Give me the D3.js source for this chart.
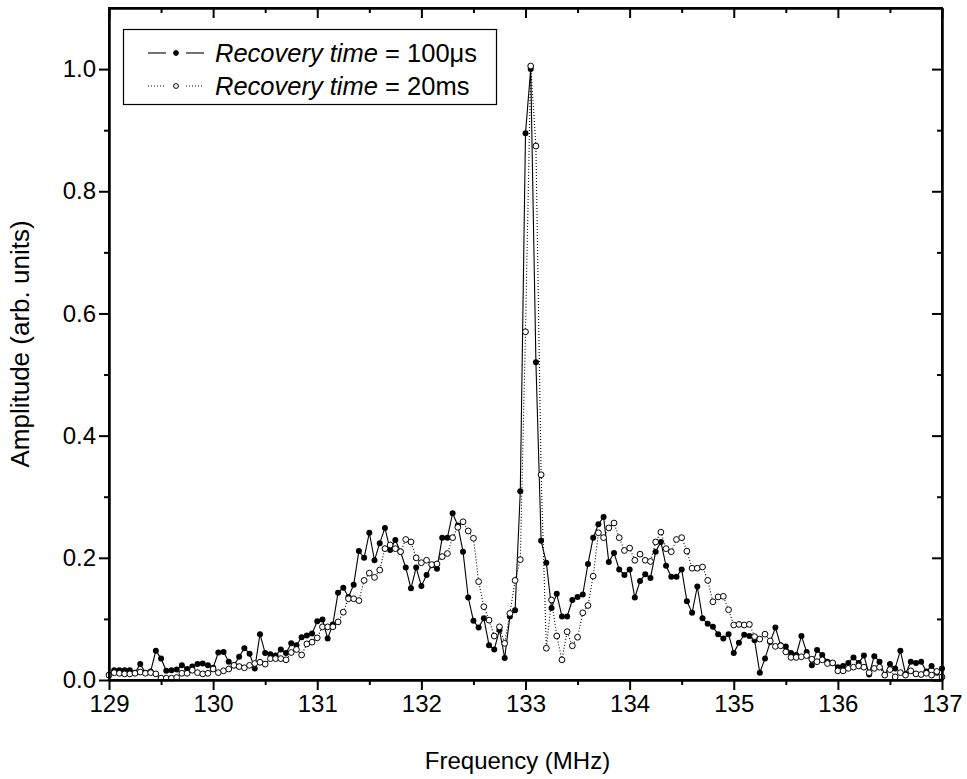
<!DOCTYPE html>
<html>
<head>
<meta charset="utf-8">
<script src="https://cdn.jsdelivr.net/npm/d3@7"></script>
<style>
  body { margin: 0; background: #fff; }
  svg { display: block; font-family: "Liberation Sans", Arial, sans-serif; }
  .frame line, .frame path { stroke: #000; }
</style>
</head>
<body>
<div id="chart"></div>
<script>
// frequency grid (MHz), one sample every 0.05 MHz
const freqMHz = [
  129.00,129.05,129.10,129.15,129.20,129.25,129.30,129.35,129.40,129.45,129.50,129.55,129.60,129.65,129.70,129.75,129.80,129.85,129.90,129.95,
  130.00,130.05,130.10,130.15,130.20,130.25,130.30,130.35,130.40,130.45,130.50,130.55,130.60,130.65,130.70,130.75,130.80,130.85,130.90,130.95,
  131.00,131.05,131.10,131.15,131.20,131.25,131.30,131.35,131.40,131.45,131.50,131.55,131.60,131.65,131.70,131.75,131.80,131.85,131.90,131.95,
  132.00,132.05,132.10,132.15,132.20,132.25,132.30,132.35,132.40,132.45,132.50,132.55,132.60,132.65,132.70,132.75,132.80,132.85,132.90,132.95,
  133.00,133.05,133.10,133.15,133.20,133.25,133.30,133.35,133.40,133.45,133.50,133.55,133.60,133.65,133.70,133.75,133.80,133.85,133.90,133.95,
  134.00,134.05,134.10,134.15,134.20,134.25,134.30,134.35,134.40,134.45,134.50,134.55,134.60,134.65,134.70,134.75,134.80,134.85,134.90,134.95,
  135.00,135.05,135.10,135.15,135.20,135.25,135.30,135.35,135.40,135.45,135.50,135.55,135.60,135.65,135.70,135.75,135.80,135.85,135.90,135.95,
  136.00,136.05,136.10,136.15,136.20,136.25,136.30,136.35,136.40,136.45,136.50,136.55,136.60,136.65,136.70,136.75,136.80,136.85,136.90,136.95,
  137.00
];

// amplitude, recovery time = 100 us (filled circles, solid line)
const amp100us = [
  0.008,0.016,0.016,0.016,0.016,0.012,0.026,0.012,0.014,0.048,0.035,0.015,0.016,0.017,0.024,0.018,0.022,0.026,0.027,0.024,
  0.020,0.045,0.046,0.030,0.024,0.038,0.052,0.043,0.019,0.075,0.044,0.042,0.040,0.050,0.044,0.060,0.057,0.070,0.073,0.076,
  0.096,0.099,0.068,0.091,0.143,0.151,0.136,0.156,0.211,0.200,0.241,0.196,0.224,0.249,0.213,0.229,0.210,0.184,0.150,0.184,
  0.154,0.172,0.188,0.182,0.233,0.233,0.273,0.253,0.210,0.135,0.097,0.086,0.101,0.057,0.050,0.082,0.036,0.104,0.114,0.309,
  0.895,1.000,0.520,0.228,0.192,0.118,0.141,0.104,0.104,0.131,0.136,0.140,0.190,0.233,0.255,0.267,0.193,0.208,0.181,0.172,
  0.181,0.135,0.162,0.173,0.167,0.210,0.226,0.187,0.169,0.169,0.181,0.129,0.110,0.153,0.101,0.092,0.087,0.075,0.068,0.075,
  0.044,0.061,0.074,0.072,0.065,0.012,0.035,0.062,0.086,0.057,0.055,0.044,0.041,0.072,0.046,0.024,0.049,0.041,0.030,0.028,
  0.021,0.023,0.028,0.037,0.028,0.040,0.009,0.039,0.030,0.008,0.026,0.019,0.048,0.010,0.030,0.028,0.030,0.014,0.023,0.012,
  0.019
];

// amplitude, recovery time = 20 ms (open circles, dotted line)
const amp20ms = [
  0.008,0.012,0.011,0.010,0.010,0.011,0.013,0.011,0.012,0.010,0.003,0.003,0.003,0.004,0.011,0.011,0.016,0.012,0.010,0.011,
  0.018,0.012,0.015,0.018,0.024,0.022,0.020,0.024,0.027,0.029,0.026,0.035,0.035,0.035,0.033,0.045,0.050,0.041,0.059,0.062,
  0.069,0.087,0.087,0.087,0.095,0.111,0.133,0.133,0.130,0.163,0.175,0.168,0.180,0.215,0.221,0.215,0.210,0.230,0.226,0.200,
  0.192,0.196,0.189,0.190,0.202,0.207,0.233,0.250,0.259,0.244,0.232,0.161,0.120,0.098,0.072,0.087,0.060,0.109,0.163,0.197,
  0.570,1.005,0.874,0.336,0.052,0.131,0.072,0.033,0.079,0.056,0.070,0.110,0.122,0.170,0.241,0.233,0.249,0.257,0.233,0.212,
  0.216,0.196,0.206,0.196,0.194,0.226,0.242,0.215,0.210,0.230,0.233,0.211,0.183,0.183,0.185,0.163,0.128,0.136,0.137,0.115,
  0.090,0.091,0.090,0.091,0.071,0.067,0.075,0.064,0.055,0.056,0.046,0.037,0.037,0.038,0.040,0.034,0.030,0.033,0.027,0.028,
  0.015,0.015,0.019,0.021,0.023,0.021,0.012,0.019,0.021,0.008,0.017,0.005,0.012,0.008,0.015,0.010,0.009,0.011,0.008,0.014,
  0.005
];

const xTicks = [129, 130, 131, 132, 133, 134, 135, 136, 137];
const yTicks = [0.0, 0.2, 0.4, 0.6, 0.8, 1.0];
const seriesLabels = ["100\u03bcs", "20ms"];

const width = 967, height = 779;
const margin = {top: 8, right: 25, bottom: 99, left: 109};
const plotW = width - margin.left - margin.right;
const plotH = height - margin.top - margin.bottom;

const svg = d3.select("#chart").append("svg")
    .attr("width", width)
    .attr("height", height);

const g = svg.append("g")
    .attr("transform", `translate(${margin.left},${margin.top})`);

const x = d3.scaleLinear().domain([129, 137]).range([0, plotW]);
const y = d3.scaleLinear().domain([0, 1.1]).range([plotH, 0]);

const rows100 = freqMHz.map((f, i) => ({f: f, a: amp100us[i]}));
const rows20 = freqMHz.map((f, i) => ({f: f, a: amp20ms[i]}));

const line = d3.line().x(d => x(d.f)).y(d => y(d.a));

// series 1: solid line + filled dots
g.append("path")
    .datum(rows100)
    .attr("fill", "none")
    .attr("stroke", "#000")
    .attr("stroke-width", 1.1)
    .attr("d", line);
g.append("g").selectAll("circle")
    .data(rows100)
    .join("circle")
    .attr("cx", d => x(d.f))
    .attr("cy", d => y(d.a))
    .attr("r", 3)
    .attr("fill", "#000");

// series 2: dotted line + open dots
g.append("path")
    .datum(rows20)
    .attr("fill", "none")
    .attr("stroke", "#000")
    .attr("stroke-width", 1.1)
    .attr("stroke-dasharray", "1,2")
    .attr("d", line);
g.append("g").selectAll("circle")
    .data(rows20)
    .join("circle")
    .attr("cx", d => x(d.f))
    .attr("cy", d => y(d.a))
    .attr("r", 2.9)
    .attr("fill", "#fff")
    .attr("stroke", "#000")
    .attr("stroke-width", 1);

// axes: outward ticks on bottom/left, inward on top/right
const xMinor = d3.range(129.5, 137, 1);
const yMinor = d3.range(0.1, 1.1, 0.2);
const tickFont = "24px";

function styleAxis(sel) {
    sel.select(".domain").attr("stroke-width", 2);
    sel.selectAll(".tick line").attr("stroke-width", 2);
    sel.selectAll(".tick text")
        .attr("font-family", "Liberation Sans, Arial, sans-serif")
        .attr("font-size", tickFont)
        .attr("fill", "#000");
}

g.append("g").attr("class", "frame")
    .attr("transform", `translate(0,${plotH})`)
    .call(d3.axisBottom(x).tickValues(xTicks).tickSize(10).tickSizeOuter(0).tickPadding(5).tickFormat(d3.format("d")))
    .call(styleAxis);
g.append("g").attr("class", "frame")
    .attr("transform", `translate(0,${plotH})`)
    .call(d3.axisBottom(x).tickValues(xMinor).tickSize(5).tickSizeOuter(0).tickFormat(""))
    .call(styleAxis);

g.append("g").attr("class", "frame")
    .call(d3.axisLeft(y).tickValues(yTicks).tickSize(10).tickSizeOuter(0).tickPadding(3).tickFormat(d3.format(".1f")))
    .call(styleAxis);
g.append("g").attr("class", "frame")
    .call(d3.axisLeft(y).tickValues(yMinor).tickSize(5).tickSizeOuter(0).tickFormat(""))
    .call(styleAxis);

g.append("g").attr("class", "frame")
    .call(d3.axisBottom(x).tickValues(xTicks).tickSize(10).tickSizeOuter(0).tickFormat(""))
    .call(styleAxis);
g.append("g").attr("class", "frame")
    .call(d3.axisBottom(x).tickValues(xMinor).tickSize(5).tickSizeOuter(0).tickFormat(""))
    .call(styleAxis);

g.append("g").attr("class", "frame")
    .attr("transform", `translate(${plotW},0)`)
    .call(d3.axisLeft(y).tickValues(yTicks).tickSize(10).tickSizeOuter(0).tickFormat(""))
    .call(styleAxis);
g.append("g").attr("class", "frame")
    .attr("transform", `translate(${plotW},0)`)
    .call(d3.axisLeft(y).tickValues(yMinor).tickSize(5).tickSizeOuter(0).tickFormat(""))
    .call(styleAxis);

// closing frame lines
g.append("rect")
    .attr("width", plotW).attr("height", plotH)
    .attr("fill", "none").attr("stroke", "#000").attr("stroke-width", 2);

// axis titles
svg.append("text")
    .attr("x", margin.left + plotW / 2 - 8)
    .attr("y", 769)
    .attr("text-anchor", "middle")
    .attr("font-size", "24px")
    .text("Frequency (MHz)");

svg.append("text")
    .attr("transform", `translate(29,${margin.top + plotH / 2}) rotate(-90)`)
    .attr("text-anchor", "middle")
    .attr("font-size", "26px")
    .text("Amplitude (arb. units)");

// legend
const legend = svg.append("g").attr("class", "legend");
legend.append("rect")
    .attr("x", 123.5).attr("y", 29.5)
    .attr("width", 373).attr("height", 75)
    .attr("fill", "#fff").attr("stroke", "#000").attr("stroke-width", 1.2);

const legendRows = [
  {label: seriesLabels[0], cy: 53, dash: null, fill: "#000"},
  {label: seriesLabels[1], cy: 86, dash: "1,2", fill: "#fff"}
];

legendRows.forEach(r => {
    [[148, 166], [186, 204]].forEach(seg => {
        legend.append("line")
            .attr("x1", seg[0]).attr("x2", seg[1])
            .attr("y1", r.cy).attr("y2", r.cy)
            .attr("stroke", "#000").attr("stroke-width", 1.1)
            .attr("stroke-dasharray", r.dash);
    });
    legend.append("circle")
        .attr("cx", 176).attr("cy", r.cy).attr("r", 2.4)
        .attr("fill", r.fill).attr("stroke", "#000").attr("stroke-width", 1);
    const t = legend.append("text")
        .attr("x", 215).attr("y", r.cy + 9)
        .attr("font-size", "25.5px");
    t.append("tspan").attr("font-style", "italic").text("Recovery time");
    t.append("tspan").text(" = " + r.label);
});
</script>
</body>
</html>
